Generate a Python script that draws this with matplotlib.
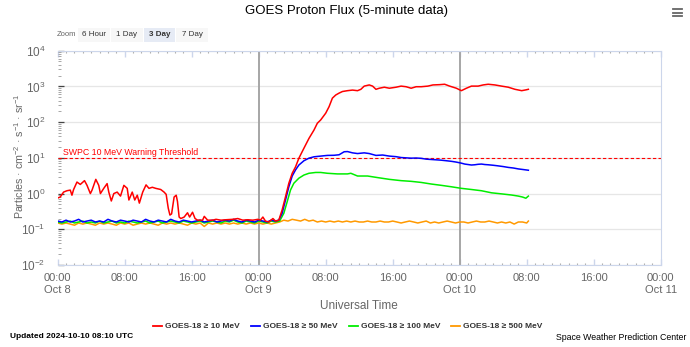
import matplotlib
matplotlib.use("Agg")
import matplotlib.pyplot as plt
from matplotlib.patches import Rectangle
from matplotlib.lines import Line2D
import numpy as np

plt.rcParams['font.family'] = ['Liberation Sans', 'DejaVu Sans']
plt.rcParams['mathtext.fontset'] = 'custom'
plt.rcParams['mathtext.rm'] = 'Liberation Sans'
plt.rcParams['mathtext.it'] = 'Liberation Sans:italic'
plt.rcParams['mathtext.bf'] = 'Liberation Sans:bold'

# hours since 2024-10-08 00:00 UTC
p10_t = [0.0, 0.3, 0.7, 1.1, 1.5, 1.7, 1.9, 2.3, 2.7, 3.2, 3.5, 3.9, 4.1, 4.55, 4.9, 5.1, 5.5, 5.9,
         6.1, 6.4, 6.7, 7.1, 7.5, 7.9, 8.3, 8.5, 8.9, 9.2, 9.5, 9.75, 10.15, 10.55, 10.9, 11.3, 11.7,
         12.3, 12.7, 12.95, 13.2, 13.4, 13.6, 13.9, 14.15, 14.3, 14.5, 14.7, 15.1, 15.5, 15.75, 16.1,
         16.4, 16.7, 17.3, 17.5, 17.9, 18.5, 18.9, 19.5, 20.1, 20.9, 21.5, 22.1, 22.7, 23.3, 23.9,
         24.2, 24.5, 24.8, 25.2, 25.7, 26.0, 26.4, 26.8, 27.2, 27.6, 28.0, 28.4, 28.8, 29.4, 30.0,
         30.6, 31.0, 31.4, 32.0, 32.4, 32.8, 33.2, 33.6, 34.0, 34.6, 35.2, 35.8, 36.2, 36.6, 37.2,
         37.6, 38.0, 38.4, 39.0, 39.6, 40.4, 41.0, 41.6, 42.2, 42.8, 43.4, 44.2, 44.8, 45.6, 46.2,
         46.8, 47.6, 48.2, 48.8, 49.4, 50.2, 50.8, 51.4, 52.2, 53.0, 53.8, 54.6, 55.4, 55.9, 56.2]
p10_v = [0.75, 0.8, 1.1, 1.2, 1.25, 0.9, 1.3, 2.1, 1.8, 2.3, 1.7, 1.0, 1.25, 2.5, 1.7, 1.0, 1.4, 1.9,
         1.1, 0.62, 1.0, 1.1, 0.85, 1.7, 1.4, 0.66, 1.1, 0.66, 0.9, 0.54, 1.1, 1.75, 1.4, 1.5, 1.4,
         1.3, 1.1, 0.95, 0.39, 0.25, 0.27, 0.8, 0.9, 0.6, 0.22, 0.2, 0.22, 0.29, 0.22, 0.3,
         0.2, 0.18, 0.18, 0.23, 0.18, 0.18, 0.19, 0.18, 0.185, 0.19, 0.2, 0.18, 0.185, 0.18, 0.19,
         0.18, 0.22, 0.17, 0.16, 0.2, 0.17, 0.18, 0.35, 0.81, 1.95, 3.7, 5.6, 9.8, 18.6, 35,
         60, 93, 115, 178, 270, 470, 575, 650, 720, 760, 790, 760, 830, 1020, 1100,
         1020, 830, 890, 950, 890, 950, 1020, 980, 890, 980, 980, 1020, 1100, 1120, 1150,
         1020, 890, 760, 890, 1020, 1020, 1100, 1150, 1100, 1020, 950, 830, 760, 800, 830]

p50_t = [0.0, 0.5, 1.0, 1.5, 2.0, 2.5, 3.0, 3.5, 4.0, 4.5, 5.0, 5.5, 6.0, 6.5, 7.0, 7.5, 8.0, 8.5,
         9.0, 9.5, 10.0, 10.5, 11.0, 11.5, 12.0, 12.5, 13.0, 13.5, 14.0, 14.5, 15.0, 15.5, 16.0,
         16.5, 17.0, 17.5, 18.0, 18.5, 19.0, 19.5, 20.0, 20.5, 21.0, 21.5, 22.0, 22.5, 23.0, 23.5,
         24.0, 24.5, 25.0, 25.5, 26.0, 26.4, 26.8, 27.2, 27.6, 28.0, 28.4, 28.8, 29.4, 30.0, 30.6,
         31.4, 32.2, 33.0, 33.6, 34.2, 34.6, 35.2, 35.8, 36.6, 37.2, 38.0, 38.8, 39.6, 40.4, 41.0,
         41.6, 42.2, 42.8, 43.4, 44.0, 44.6, 45.2, 45.8, 46.4, 47.0, 47.6, 48.2, 48.6, 49.0, 49.4,
         49.8, 50.2, 50.6, 51.0, 51.4, 52.0, 52.5, 53.2, 53.8, 54.4, 55.0, 55.6, 56.2]
p50_v = [0.17, 0.16, 0.18, 0.16, 0.17, 0.19, 0.16, 0.17, 0.18, 0.16, 0.17, 0.16, 0.19, 0.17, 0.16,
         0.18, 0.17, 0.16, 0.18, 0.17, 0.16, 0.19, 0.17, 0.16, 0.18, 0.17, 0.16, 0.19, 0.17, 0.16,
         0.18, 0.17, 0.16, 0.17, 0.18, 0.16, 0.17, 0.18, 0.16, 0.17, 0.18, 0.17, 0.19, 0.17, 0.16,
         0.18, 0.17, 0.16, 0.18, 0.17, 0.16, 0.18, 0.17, 0.18, 0.28, 0.66, 1.55, 3.1, 4.6, 6.3,
         8.3, 9.8, 10.7, 11.2, 11.7, 11.8, 12.2, 14.8, 15.0, 13.8, 13.2, 13.8, 13.2, 11.7, 12.0,
         11.2, 10.8, 10.2, 10.0, 9.8, 9.9, 9.7, 9.2, 9.0, 8.8, 8.6, 8.3, 8.0, 7.6, 7.1, 6.7, 6.5,
         6.3, 6.4, 6.6, 6.7, 6.5, 6.4, 6.2, 6.0, 5.7, 5.4, 5.2, 4.9, 4.7, 4.5]

p100_t = [0.0, 0.5, 1.0, 1.5, 2.0, 2.5, 3.0, 3.5, 4.0, 4.5, 5.0, 5.5, 6.0, 6.5, 7.0, 7.5, 8.0, 8.5,
          9.0, 9.5, 10.0, 10.5, 11.0, 11.5, 12.0, 12.5, 13.0, 13.5, 14.0, 14.5, 15.0, 15.5, 16.0,
          16.5, 17.0, 17.5, 18.0, 18.5, 19.0, 19.5, 20.0, 20.5, 21.0, 21.5, 22.0, 22.5, 23.0, 23.5,
          24.0, 24.5, 25.0, 25.5, 26.0, 26.5, 27.0, 27.4, 27.8, 28.2, 28.8, 29.4, 30.0, 30.8, 31.4,
          32.2, 33.4, 34.6, 35.0, 35.8, 37.0, 38.2, 39.6, 41.0, 42.2, 43.4, 44.6, 45.8, 47.0, 48.2,
          49.4, 50.6, 51.8, 53.0, 54.2, 55.0, 55.5, 55.9, 56.2]
p100_v = [0.16, 0.15, 0.16, 0.17, 0.15, 0.16, 0.17, 0.15, 0.16, 0.15, 0.17, 0.15, 0.16, 0.17, 0.15,
          0.16, 0.15, 0.17, 0.16, 0.15, 0.16, 0.17, 0.15, 0.16, 0.17, 0.15, 0.16, 0.17, 0.16, 0.15,
          0.17, 0.16, 0.15, 0.16, 0.17, 0.15, 0.16, 0.17, 0.16, 0.15, 0.17, 0.16, 0.18, 0.16, 0.15,
          0.17, 0.16, 0.15, 0.17, 0.16, 0.15, 0.17, 0.16, 0.17, 0.28, 0.59, 1.26, 1.95, 2.7, 3.3,
          3.7, 3.9, 3.9, 3.7, 3.55, 3.55, 3.7, 3.1, 3.1, 2.8, 2.5, 2.3, 2.2, 2.05, 1.85, 1.7, 1.55,
          1.4, 1.3, 1.2, 1.05, 0.98, 0.91, 0.85, 0.8, 0.74, 0.85]

p500_t = [0.0, 0.5, 1.0, 1.5, 2.0, 2.5, 3.0, 3.5, 4.0, 4.5, 5.0, 5.5, 6.0, 6.5, 7.0, 7.5, 8.0, 8.5,
          9.0, 9.5, 10.0, 10.5, 11.0, 11.5, 12.0, 12.5, 13.0, 13.5, 14.0, 14.5, 15.0, 15.5, 16.0,
          16.5, 17.0, 17.5, 18.0, 18.5, 19.0, 19.5, 20.0, 20.5, 21.0, 21.5, 22.0, 22.5, 23.0, 23.5,
          24.0, 24.5, 25.0, 25.5, 26.0, 26.5, 27.0, 27.5, 28.0, 28.5, 29.0, 29.5, 30.0, 30.5, 31.0,
          31.5, 32.0, 32.5, 33.0, 33.5, 34.0, 34.5, 35.0, 35.5, 36.0, 36.5, 37.0, 37.5, 38.0, 38.5,
          39.0, 39.5, 40.0, 40.5, 41.0, 41.5, 42.0, 42.5, 43.0, 43.5, 44.0, 44.5, 45.0, 45.5, 46.0,
          46.5, 47.0, 47.5, 48.0, 48.5, 49.0, 49.5, 50.0, 50.5, 51.0, 51.5, 52.0, 52.5, 53.0, 53.5,
          54.0, 54.5, 55.0, 55.5, 56.0, 56.2]
p500_v = [0.15, 0.14, 0.15, 0.14, 0.13, 0.15, 0.14, 0.15, 0.14, 0.13, 0.15, 0.14, 0.15, 0.14, 0.13,
          0.15, 0.14, 0.15, 0.13, 0.14, 0.15, 0.14, 0.15, 0.14, 0.13, 0.15, 0.14, 0.15, 0.14, 0.15,
          0.14, 0.13, 0.15, 0.14, 0.15, 0.12, 0.15, 0.14, 0.15, 0.14, 0.15, 0.14, 0.15, 0.14, 0.15,
          0.14, 0.15, 0.14, 0.15, 0.14, 0.15, 0.14, 0.15, 0.16, 0.18, 0.17, 0.19, 0.18, 0.17, 0.19,
          0.17, 0.18, 0.16, 0.17, 0.16, 0.17, 0.16, 0.17, 0.16, 0.17, 0.16, 0.17, 0.16, 0.16, 0.17,
          0.16, 0.16, 0.17, 0.16, 0.16, 0.17, 0.16, 0.15, 0.16, 0.17, 0.16, 0.15, 0.16, 0.17, 0.15,
          0.16, 0.15, 0.16, 0.17, 0.16, 0.15, 0.16, 0.16, 0.15, 0.16, 0.17, 0.16, 0.16, 0.17,
          0.16, 0.15, 0.16, 0.15, 0.16, 0.14, 0.16, 0.16, 0.15, 0.17]

series = [
    ("GOES-18 \u2265 10 MeV", p10_t, p10_v, "#ff0000"),
    ("GOES-18 \u2265 50 MeV", p50_t, p50_v, "#0000ff"),
    ("GOES-18 \u2265 100 MeV", p100_t, p100_v, "#00ee00"),
    ("GOES-18 \u2265 500 MeV", p500_t, p500_v, "#ff9900"),
]

tick_hours = [0, 8, 16, 24, 32, 40, 48, 56, 64, 72]
tick_labels = ["00:00\nOct 8", "08:00", "16:00", "00:00\nOct 9", "08:00", "16:00",
               "00:00\nOct 10", "08:00", "16:00", "00:00\nOct 11"]
threshold = 10

W, H = 690, 347
fig = plt.figure(figsize=(W / 100, H / 100), dpi=100)
ax = fig.add_axes([57.7 / W, 1 - 265 / H, 603 / W, 214.3 / H])

# draw from low energy up so red sits on top like the original
for name, t, v, c in reversed(series):
    ax.plot(t, v, color=c, lw=1.1, zorder=3)

ax.set_yscale("log")
ax.set_ylim(1e-2, 1e4)
ax.set_xlim(0, 72)

ax.axhline(threshold, color="#ff0000", lw=0.8, ls=(0, (3, 2)), zorder=2)
ax.text(0.65, 14.5, "SWPC 10 MeV Warning Threshold", color="#ff0000", fontsize=6.3,
        va="center", ha="left")

for d in [24, 48]:
    ax.axvline(d, color="#a6a6a6", lw=1.4, zorder=1)

ax.grid(False, axis="x")
ax.grid(axis="y", which="major", color="#e6e6e6", lw=0.9)
ax.set_axisbelow(True)

ax.set_xticks(tick_hours)
ax.set_xticklabels(tick_labels)
ax.set_xticks(np.arange(0, 73, 1), minor=True)
ax.tick_params(axis="x", which="both", direction="in", top=True,
               labelsize=8, labelcolor="#666666", pad=6)
ax.tick_params(axis="x", which="major", length=4.5, width=1, color="#ccd6eb")
ax.tick_params(axis="x", which="minor", length=1.6, width=0.8, color="#aaaaaa")
ax.tick_params(axis="y", which="major", direction="in", length=4, width=0.9, color="#444444",
               labelsize=8.5, labelcolor="#666666", pad=9)
ax.tick_params(axis="y", which="minor", direction="in", length=2, width=0.6, color="#999999")

for s in ["top", "bottom", "right"]:
    ax.spines[s].set_color("#ccd6eb")
ax.spines["left"].set_visible(False)

ax.set_xlabel("Universal Time", fontsize=8.5, color="#666666", labelpad=4)
ax.set_ylabel("Particles \u00b7 cm$^{-2}$ \u00b7 s$^{-1}$ \u00b7 sr$^{-1}$", fontsize=7.7,
              color="#666666")
ax.yaxis.set_label_coords((26 - 57.7) / 603, 0.505)

# title and menu icon
fig.text(347 / W, 1 - 11 / H, "GOES Proton Flux (5-minute data)", fontsize=9.5, ha="center",
         va="center", color="#000000")
for yy in [9, 12.5, 16]:
    fig.add_artist(Line2D([673 / W, 682 / W], [1 - yy / H, 1 - yy / H], color="#666666", lw=1.3))

# range selector buttons
fig.text(57 / W, 1 - 34.5 / H, "Zoom", fontsize=5.5, color="#666666", va="center")
buttons = [("6 Hour", 78, 110), ("1 Day", 111, 143), ("3 Day", 144, 175), ("7 Day", 176, 208)]
for label, x0, x1 in buttons:
    sel = label == "3 Day"
    fig.add_artist(Rectangle((x0 / W, 1 - 42 / H), (x1 - x0) / W, 14 / H,
                             facecolor="#e6ebf5" if sel else "#f7f7f7", edgecolor="none"))
    fig.text((x0 + x1) / 2 / W, 1 - 34.5 / H, label, fontsize=5.8, ha="center", va="center",
             color="#333333", fontweight="bold" if sel else "normal")

# legend
leg_x = [153, 251, 349, 451]
for (name, t, v, c), lx in zip(series, leg_x):
    fig.add_artist(Line2D([lx / W, (lx + 9) / W], [1 - 326 / H, 1 - 326 / H], color=c, lw=1.3))
    fig.text((lx + 12) / W, 1 - 326 / H, name, fontsize=6.0, fontweight="bold", color="#333333",
             va="center", ha="left")

fig.text(10 / W, 1 - 337 / H, "Updated 2024-10-10 08:10 UTC", fontsize=6.0, fontweight="bold",
         color="#000000", va="center", ha="left")
fig.text(686 / W, 1 - 337 / H, "Space Weather Prediction Center", fontsize=6.3,
         color="#000000", va="center", ha="right")

fig.savefig("out.png", dpi=100)
